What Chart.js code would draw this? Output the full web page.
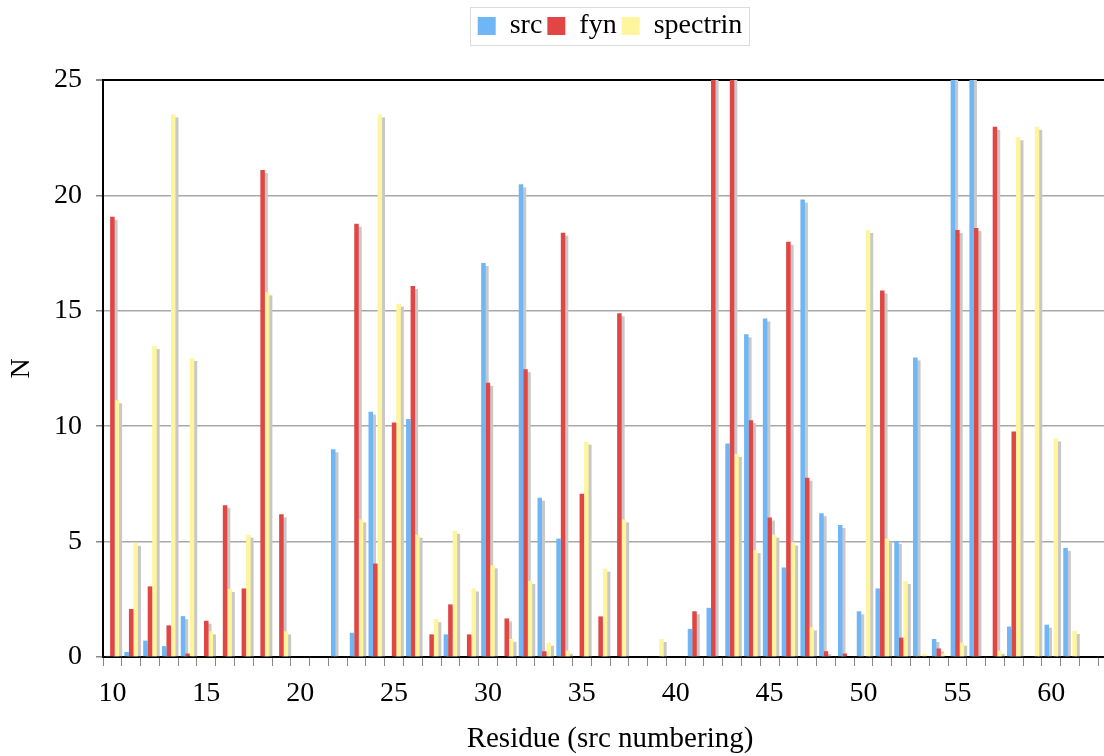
<!DOCTYPE html>
<html>
<head>
<meta charset="utf-8">
<script src="https://cdn.jsdelivr.net/npm/chart.js@4.4.1/dist/chart.umd.min.js"></script>
<style>
  html, body { margin: 0; padding: 0; background: #fff; overflow: hidden; }
  #wrap { width: 1120px; height: 756px; position: relative; }
</style>
</head>
<body>
<div id="wrap"><canvas id="residueChart"></canvas></div>
<script>
// residues (src numbering) and counts per domain
const residues = [10, 11, 12, 13, 14, 15, 16, 17, 18, 19, 20, 21, 22, 23, 24, 25, 26, 27, 28, 29,
  30, 31, 32, 33, 34, 35, 36, 37, 38, 39, 40, 41, 42, 43, 44, 45, 46, 47, 48, 49,
  50, 51, 52, 53, 54, 55, 56, 57, 58, 59, 60, 61, 62, 63];

const srcValues = [0.05, 0.22, 0.71, 0.47, 1.77, 0, 0, 0, 0, 0, 0, 0, 9.0, 1.05, 10.63, 0, 10.31, 0, 0.98, 0,
  17.07, 0, 20.48, 6.9, 5.13, 0, 0, 0, 0, 0, 0, 1.22, 2.13, 9.25, 13.98, 14.67, 3.88, 19.82, 6.23, 5.72,
  1.98, 2.97, 5.03, 12.98, 0.78, 27, 27, 0, 1.32, 0, 1.40, 4.73, 0, 0];

const fynValues = [19.07, 2.08, 3.06, 1.37, 0.15, 1.57, 6.58, 2.97, 21.1, 6.18, 0, 0, 0, 18.77, 4.05, 10.16, 16.07, 0.98, 2.28, 0.98,
  11.88, 1.67, 12.47, 0.25, 18.38, 7.07, 1.76, 14.89, 0, 0, 0, 1.98, 27, 27, 10.26, 6.04, 17.99, 7.77, 0.25, 0.15,
  0, 15.88, 0.84, 0, 0.37, 18.5, 18.59, 22.97, 9.77, 0, 0, 0, 0, 0];

const spectrinValues = [11.12, 4.95, 13.47, 23.51, 12.96, 1.11, 2.95, 5.30, 15.8, 1.11, 0, 0, 0, 5.96, 23.51, 15.31, 5.30, 1.64, 5.47, 2.97,
  3.97, 0.79, 3.29, 0.62, 0.27, 9.33, 3.83, 5.96, 0, 0.78, 0, 0, 0, 8.8, 4.63, 5.30, 4.96, 1.28, 0, 0,
  18.5, 5.13, 3.29, 0.14, 0.14, 0.62, 0, 0.27, 22.52, 22.97, 9.47, 1.13, 0, 0];

const yTicks = [0, 5, 10, 15, 20, 25];

const serif = "'Liberation Serif', 'Times New Roman', serif";

// gray drop shadow behind every bar (drawn before the bars themselves)
const barShadow = {
  id: "barShadow",
  beforeDatasetsDraw(chart) {
    const ctx = chart.ctx;
    const area = chart.chartArea;
    ctx.save();
    ctx.beginPath();
    ctx.rect(area.left, area.top, area.right - area.left, area.bottom - area.top);
    ctx.clip();
    ctx.fillStyle = "#c8c8c8";
    chart.data.datasets.forEach(function (ds, i) {
      chart.getDatasetMeta(i).data.forEach(function (bar) {
        const p = bar.getProps(["x", "y", "base", "width"], true);
        const top = Math.min(p.y, p.base) + 3;
        const h = Math.abs(p.base - p.y) - 3;
        if (h > 0) ctx.fillRect(p.x - p.width / 2 + 3, top, p.width, h);
      });
    });
    ctx.restore();
  },
};

// thin frame round the legend
const legendFrame = {
  id: "legendFrame",
  afterDraw(chart) {
    const boxes = chart.legend.legendHitBoxes;
    if (!boxes || !boxes.length) return;
    let l = Infinity, r = -Infinity, t = Infinity, b = -Infinity;
    boxes.forEach(function (h) {
      l = Math.min(l, h.left);
      r = Math.max(r, h.left + h.width);
      t = Math.min(t, h.top);
      b = Math.max(b, h.top + h.height);
    });
    const ctx = chart.ctx;
    ctx.save();
    ctx.strokeStyle = "#dcdcdc";
    ctx.lineWidth = 1;
    ctx.strokeRect(Math.round(l - 8) + 0.5, Math.round(t - 5) + 0.5, Math.round(r - l + 14), Math.round(b - t + 10));
    ctx.restore();
  },
};

const ctx = document.getElementById("residueChart").getContext("2d");
const residueChart = new Chart(ctx, {
  type: "bar",
  data: {
    labels: residues,
    datasets: [
      { label: "src", data: srcValues, backgroundColor: "#6fb6f6" },
      { label: "fyn", data: fynValues, backgroundColor: "#e24644" },
      { label: "spectrin", data: spectrinValues, backgroundColor: "#fff59c" },
    ],
  },
  options: {
    responsive: true,
    maintainAspectRatio: false,
    animation: false,
    categoryPercentage: 0.72,
    barPercentage: 1.0,
    layout: { padding: { left: 0, right: 3, top: 7, bottom: 0 } },
    plugins: {
      tooltip: { enabled: false },
      // empty title used only as a spacer between legend and plot
      title: {
        display: true,
        text: "",
        weight: 500,
        padding: 0,
        font: { size: 30, lineHeight: 1 },
      },
      legend: {
        position: "top",
        fullSize: false,
        labels: {
          color: "#000",
          font: { family: serif, size: 28 },
          boxWidth: 18,
          boxHeight: 18,
          padding: 5,
        },
      },
    },
    scales: {
      x: {
        offset: true,
        grid: { drawOnChartArea: false, drawTicks: true, tickLength: 9, color: "#888", lineWidth: 1 },
        border: { display: true, color: "#000", width: 2 },
        ticks: {
          autoSkip: false,
          maxRotation: 0,
          minRotation: 0,
          padding: 11,
          color: "#000",
          font: { family: serif, size: 28 },
          callback: function (val, i) {
            const r = residues[i];
            return r % 5 === 0 ? String(r) : "";
          },
        },
        title: {
          display: true,
          text: "Residue (src numbering)",
          color: "#000",
          font: { family: serif, size: 29, lineHeight: 1 },
          padding: { top: 0, bottom: 2 },
        },
        afterFit: function (scale) { scale.height = 99; },
      },
      y: {
        min: 0,
        max: 25,
        afterBuildTicks: function (scale) {
          scale.ticks = yTicks.map(function (v) { return { value: v }; });
        },
        grid: {
          drawTicks: true,
          tickLength: 7,
          tickColor: "#888",
          color: function (c) { return c.tick && c.tick.value === 25 ? "#000" : "#a8a8a8"; },
          lineWidth: function (c) { return c.tick && c.tick.value === 25 ? 2 : 1.5; },
        },
        border: { display: true, color: "#000", width: 2 },
        ticks: {
          padding: 14,
          color: "#000",
          font: { family: serif, size: 28 },
        },
        title: {
          display: true,
          text: "N",
          color: "#000",
          font: { family: serif, size: 28, lineHeight: 1 },
          padding: { top: 8, bottom: 0 },
        },
        afterFit: function (scale) { scale.width = 103; },
      },
    },
  },
  plugins: [barShadow, legendFrame],
});
</script>
</body>
</html>
